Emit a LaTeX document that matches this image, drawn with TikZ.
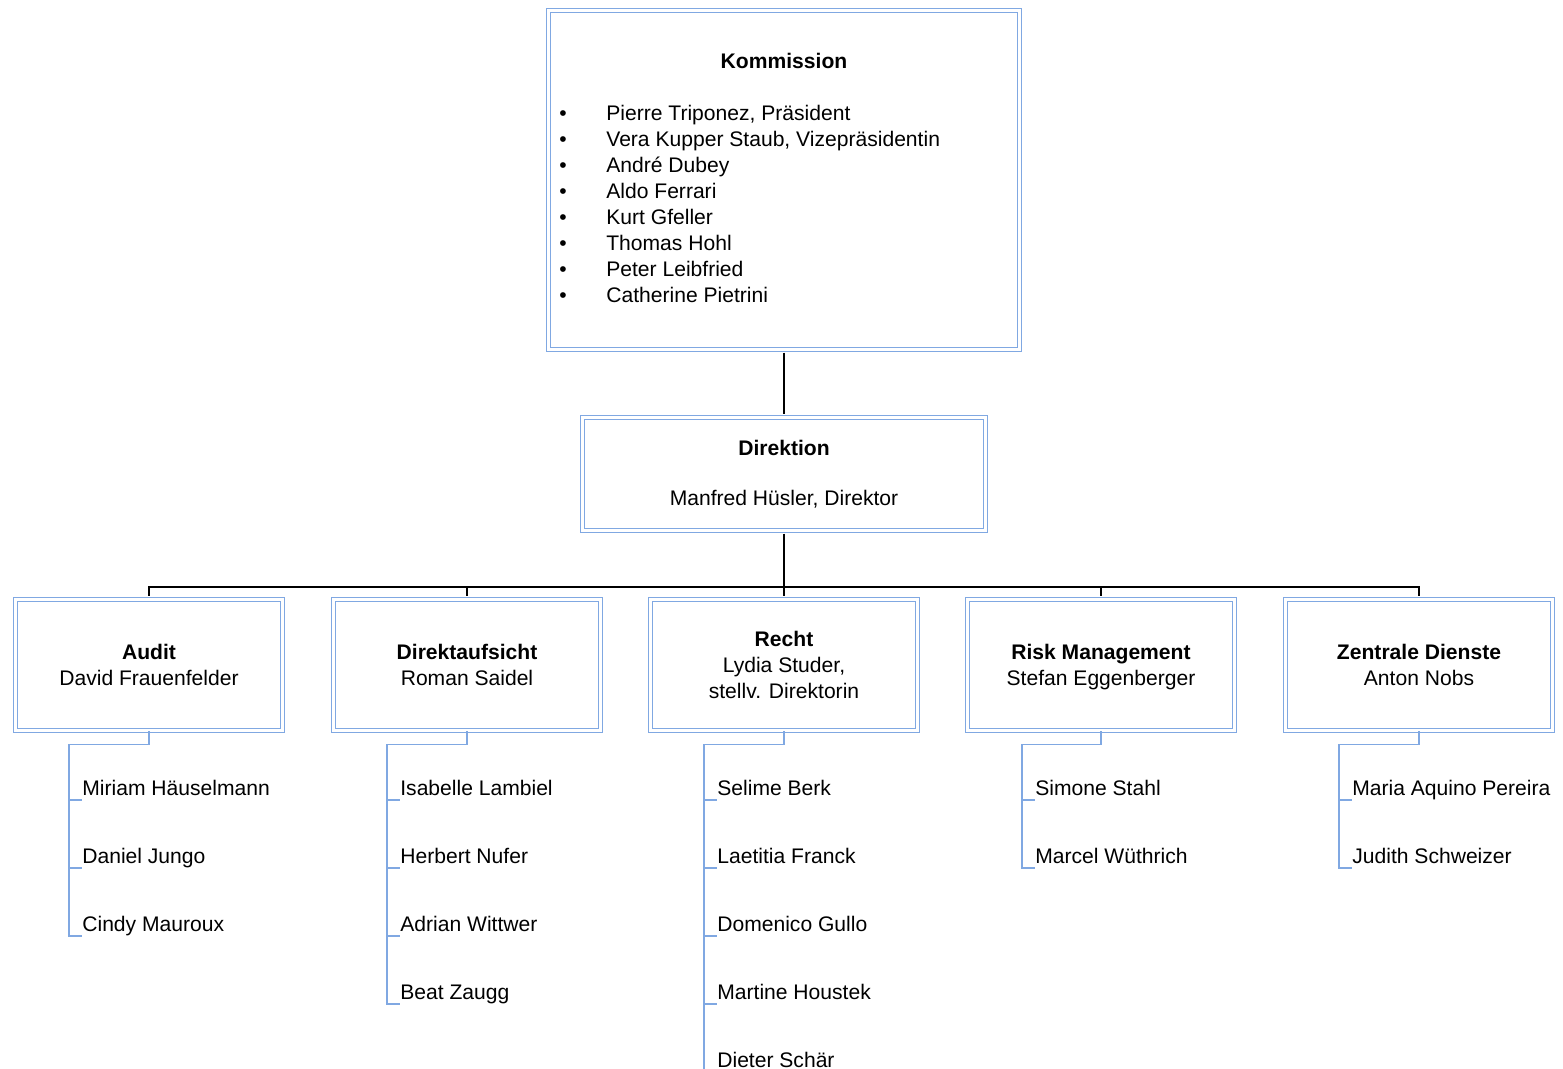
\documentclass[tikz,border=0pt]{standalone}
\usepackage{fontspec}
\setmainfont{Liberation Sans}
\usetikzlibrary{calc}
\definecolor{boxblue}{RGB}{128,168,226}
\begin{document}
\begin{tikzpicture}[x=0.02cm,y=-0.02cm,
  every node/.style={font=\fontsize{12}{14.8}\selectfont, inner sep=0pt},
  orgbox/.style={draw=boxblue, line width=0.75pt, double=white, double distance=1.8pt, align=center},
  deptbox/.style={orgbox, minimum width=5.34cm, minimum height=2.62cm},
  member/.style={anchor=base west},
  link/.style={black, line width=0.8pt},
  staffline/.style={boxblue, line width=0.85pt}]
\useasboundingbox (0,0) rectangle (1563,1069);
\node (kommission) at (784,180) [orgbox, minimum width=9.42cm, minimum height=6.78cm] {};
\node (kommtitle) at (784,61) {\textbf{Kommission}};
\node (k1) at (606,120) [member] {\llap{\textbullet\hspace{0.79cm}}Pierre Triponez, Präsident};
\node (k2) at (606,146) [member] {\llap{\textbullet\hspace{0.79cm}}Vera Kupper Staub, Vizepräsidentin};
\node (k3) at (606,172) [member] {\llap{\textbullet\hspace{0.79cm}}André Dubey};
\node (k4) at (606,198) [member] {\llap{\textbullet\hspace{0.79cm}}Aldo Ferrari};
\node (k5) at (606,224) [member] {\llap{\textbullet\hspace{0.79cm}}Kurt Gfeller};
\node (k6) at (606,250) [member] {\llap{\textbullet\hspace{0.79cm}}Thomas Hohl};
\node (k7) at (606,276) [member] {\llap{\textbullet\hspace{0.79cm}}Peter Leibfried};
\node (k8) at (606,302) [member] {\llap{\textbullet\hspace{0.79cm}}Catherine Pietrini};
\node (direktion) at (784,474) [orgbox, minimum width=8.06cm, minimum height=2.26cm] {\textbf{Direktion}\\[0.48cm]Manfred Hüsler, Direktor};
\node (audit) at (149,665) [deptbox] {\textbf{Audit}\\David Frauenfelder};
\node (direktaufsicht) at (467,665) [deptbox] {\textbf{Direktaufsicht}\\Roman Saidel};
\node (recht) at (784,665) [deptbox] {\textbf{Recht}\\Lydia Studer,\\stellv. Direktorin};
\node (risk) at (1101,665) [deptbox] {\textbf{Risk Management}\\\smash{Stefan Eggenberger}};
\node (zentrale) at (1419,665) [deptbox] {\textbf{Zentrale Dienste}\\Anton Nobs};
\draw [link, shorten <=0.05cm, shorten >=0.05cm] (kommission.south) -- (direktion.north);
\coordinate (bar) at (784,587);
\draw [link, shorten <=0.05cm] (direktion.south) -- (bar);
\draw [link, shorten >=0.05cm] (bar) -| (audit.north);
\draw [link, shorten >=0.05cm] (bar) -| (direktaufsicht.north);
\draw [link, shorten >=0.05cm] (bar) -- (recht.north);
\draw [link, shorten >=0.05cm] (bar) -| (risk.north);
\draw [link, shorten >=0.05cm] (bar) -| (zentrale.north);
\node (a1) at (82,795) [member] {Miriam Häuselmann};
\node (a2) at (82,863) [member] {Daniel Jungo};
\node (a3) at (82,931) [member] {Cindy Mauroux};
\draw [staffline] (audit.south) -- ++(0,13.5) -| ($(a3.base west)+(-13,5)$) -- ++(13,0);
\draw [staffline] ($(a1.base west)+(-13,5)$) -- ++(13,0);
\draw [staffline] ($(a2.base west)+(-13,5)$) -- ++(13,0);
\node (d1) at (400,795) [member] {Isabelle Lambiel};
\node (d2) at (400,863) [member] {Herbert Nufer};
\node (d3) at (400,931) [member] {Adrian Wittwer};
\node (d4) at (400,999) [member] {Beat Zaugg};
\draw [staffline] (direktaufsicht.south) -- ++(0,13.5) -| ($(d4.base west)+(-13,5)$) -- ++(13,0);
\draw [staffline] ($(d1.base west)+(-13,5)$) -- ++(13,0);
\draw [staffline] ($(d2.base west)+(-13,5)$) -- ++(13,0);
\draw [staffline] ($(d3.base west)+(-13,5)$) -- ++(13,0);
\node (r1) at (717,795) [member] {Selime Berk};
\node (r2) at (717,863) [member] {Laetitia Franck};
\node (r3) at (717,931) [member] {Domenico Gullo};
\node (r4) at (717,999) [member] {Martine Houstek};
\node (r5) at (717,1067) [member] {Dieter Schär};
\coordinate (rend) at (704,1069);
\draw [staffline] (recht.south) -- ++(0,13.5) -| (rend);
\draw [staffline] ($(r1.base west)+(-13,5)$) -- ++(13,0);
\draw [staffline] ($(r2.base west)+(-13,5)$) -- ++(13,0);
\draw [staffline] ($(r3.base west)+(-13,5)$) -- ++(13,0);
\draw [staffline] ($(r4.base west)+(-13,5)$) -- ++(13,0);
\node (s1) at (1035,795) [member] {Simone Stahl};
\node (s2) at (1035,863) [member] {Marcel Wüthrich};
\draw [staffline] (risk.south) -- ++(0,13.5) -| ($(s2.base west)+(-13,5)$) -- ++(13,0);
\draw [staffline] ($(s1.base west)+(-13,5)$) -- ++(13,0);
\node (z1) at (1352,795) [member] {Maria Aquino Pereira};
\node (z2) at (1352,863) [member] {Judith Schweizer};
\draw [staffline] (zentrale.south) -- ++(0,13.5) -| ($(z2.base west)+(-13,5)$) -- ++(13,0);
\draw [staffline] ($(z1.base west)+(-13,5)$) -- ++(13,0);
\end{tikzpicture}
\end{document}
